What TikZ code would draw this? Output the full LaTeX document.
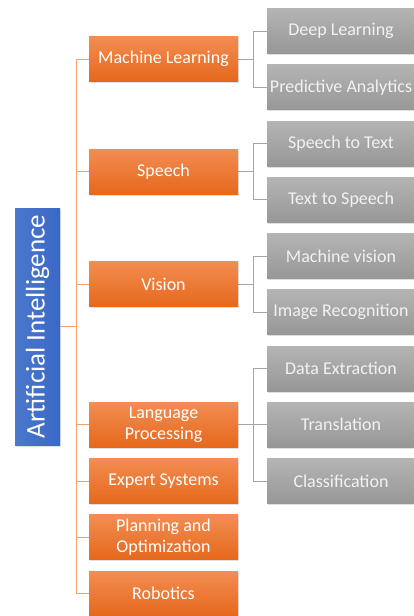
\documentclass[tikz,border=0pt]{standalone}
\usepackage{fontspec}
\setmainfont{Carlito}
\usetikzlibrary{positioning, shadows}
\definecolor{aiblue}{HTML}{3A68C6}
\definecolor{aibluetop}{HTML}{4A78CC}
\definecolor{topictop}{HTML}{F28D52}
\definecolor{topicbot}{HTML}{E6681C}
\definecolor{leaftop}{HTML}{B4B4B4}
\definecolor{leafbot}{HTML}{979797}
\definecolor{trunkline}{HTML}{F3A06A}
\definecolor{leafline}{HTML}{A5A5A5}
\tikzset{
node distance=56.25pt, % one row of the leaf column
box/.style={rectangle, minimum height=45pt, inner xsep=0pt, align=center, text=white,
  font=\fontsize{18pt}{21pt}\selectfont,
  drop shadow={opacity=0.25, shadow xshift=1pt, shadow yshift=-1.5pt}}, % common look of all boxes
root/.style={box, rotate=90, minimum width=237pt, left color=aibluetop, right color=aiblue,
  font=\fontsize{27pt}{30pt}\selectfont}, % the vertical blue box
topic/.style={box, minimum width=149pt, top color=topictop, bottom color=topicbot}, % orange boxes
leaf/.style={box, minimum width=148pt, top color=leaftop, bottom color=leafbot, text=white!95!black}, % grey boxes
trunk/.style={draw=trunkline, line width=1pt}, % orange connectors
twig/.style={draw=leafline, line width=1pt}, % grey connectors
}
\begin{document}
\begin{tikzpicture}[x=1pt, y=-1pt]
            \useasboundingbox (0,0) rectangle (413,616);
            % leaf column
            \node[leaf] (dl) at (341,31) {Deep Learning};
            \node[leaf, below of=dl] (pa) {Predictive Analytics};
            \node[leaf, below of=pa] (stt) {Speech to Text};
            \node[leaf, below of=stt] (tts) {Text to Speech};
            \node[leaf, below of=tts] (mv) {Machine vision};
            \node[leaf, below of=mv] (ir) {Image Recognition};
            \node[leaf, below of=ir] (de) {Data Extraction};
            \node[leaf, below of=de] (tr) {Translation};
            \node[leaf, below of=tr] (cl) {Classification};
            % topics
            \node[topic] (ml) at (163.5,59) {Machine Learning};
            \node[topic, below of=ml, node distance=112.5pt] (sp) {Speech};
            \node[topic, below of=sp, node distance=112.5pt] (vi) {Vision};
            \node[topic, left of=tr, node distance=177.5pt] (lp) {Language\\Processing};
            \node[topic, left of=cl, node distance=177.5pt] (es) {Expert Systems};
            \node[topic, below of=es] (po) {Planning and\\Optimization};
            \node[topic, below of=po] (rob) {Robotics};
            % root
            \node[root] (ai) at (37.5,326.5) {Artificial Intelligence};
            \foreach \t in {ml, sp, vi, lp, es, po, rob}
                \draw[trunk] (ai.south) -- ++(16,0) |- (\t.west);
            \draw[twig]
                (ml.east) -- ++(15,0) |- (dl.west)
                (ml.east) -- ++(15,0) |- (pa.west)
                (sp.east) -- ++(15,0) |- (stt.west)
                (sp.east) -- ++(15,0) |- (tts.west)
                (vi.east) -- ++(15,0) |- (mv.west)
                (vi.east) -- ++(15,0) |- (ir.west)
                (lp.east) -- ++(15,0) |- (de.west)
                (lp.east) -- (tr.west)
                (lp.east) -- ++(15,0) |- (cl.west)
                ;
            \end{tikzpicture}
\end{document}
